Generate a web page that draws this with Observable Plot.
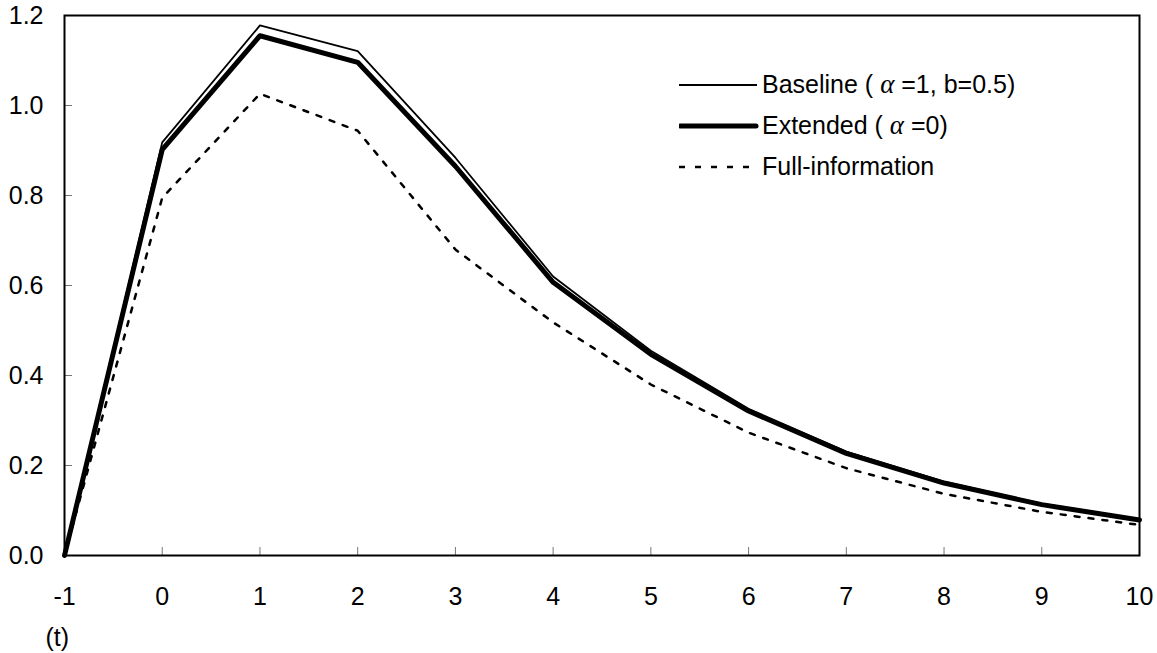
<!DOCTYPE html>
<html>
<head>
<meta charset="utf-8">
<script src="https://cdn.jsdelivr.net/npm/d3@7"></script>
<script src="https://cdn.jsdelivr.net/npm/@observablehq/plot@0.6"></script>
<style>
  body { margin: 0; background: #fff; font-family: "Liberation Sans", Arial, sans-serif; }
  #wrap { position: relative; width: 1157px; height: 653px; }
  #legend { position: absolute; left: 679px; top: 64px; font-size: 25px; color: #000; white-space: nowrap; }
  .row { display: flex; align-items: center; height: 41px; }
  .row svg { width: 80px; height: 12px; margin-right: 3px; }
  .al { font-family: "Liberation Serif", "Times New Roman", serif; font-style: italic; font-size: 27px; }
</style>
</head>
<body>
<div id="wrap"></div>
<script>
const periods = [-1, 0, 1, 2, 3, 4, 5, 6, 7, 8, 9, 10];
const baseline = [0, 0.918, 1.178, 1.121, 0.884, 0.620, 0.455, 0.326, 0.231, 0.164, 0.115, 0.081];
const extended = [0, 0.902, 1.155, 1.096, 0.865, 0.607, 0.447, 0.321, 0.227, 0.161, 0.113, 0.079];
const fullInfo = [0, 0.795, 1.026, 0.944, 0.680, 0.518, 0.380, 0.273, 0.194, 0.137, 0.097, 0.068];
const yTicks = [0, 0.2, 0.4, 0.6, 0.8, 1.0, 1.2];
const xTicks = periods;
const xAxisLabel = "(t)";
const seriesNames = ["Baseline", "Extended", "Full-information"];

const W = 1157, H = 653;
const mL = 64, mR = 18, mT = 15, mB = 98;
const pw = W - mL - mR, ph = H - mT - mB;

const rows = (vals) => periods.map((t, i) => ({t, v: vals[i]}));

const chart = Plot.plot({
  width: W, height: H,
  marginLeft: mL, marginRight: mR, marginTop: mT, marginBottom: mB,
  style: {fontFamily: '"Liberation Sans", Arial, sans-serif', fontSize: "25px", color: "#000", background: "#fff"},
  x: {domain: [-1, 10]},
  y: {domain: [0, 1.2]},
  marks: [
    Plot.axisY(yTicks, {tickSize: 0, tickPadding: 21, tickFormat: d => d.toFixed(1), label: null}),
    Plot.axisX(xTicks, {tickSize: 0, tickPadding: 32, tickFormat: d => String(d), label: null}),
    Plot.tickY(yTicks, {y: d => d, insetRight: pw - 8, stroke: "#777", strokeWidth: 1}),
    Plot.tickX(xTicks, {x: d => d, insetTop: ph - 8, stroke: "#777", strokeWidth: 1}),
    Plot.line(rows(fullInfo), {x: "t", y: "v", stroke: "#000", strokeWidth: 2.5, strokeDasharray: "5,9"}),
    Plot.line(rows(extended), {x: "t", y: "v", stroke: "#000", strokeWidth: 5}),
    Plot.line(rows(baseline), {x: "t", y: "v", stroke: "#000", strokeWidth: 1.8}),
    Plot.frame({stroke: "#000", strokeWidth: 2}),
    Plot.text([xAxisLabel], {frameAnchor: "bottom-left", text: d => d, dx: -19, dy: 82, textAnchor: "start", lineAnchor: "middle"})
  ]
});

// enforce font size on all chart texts
d3.select(chart).selectAll("g").filter(function() { return this.getAttribute("font-size"); }).attr("font-size", null);
d3.select(chart).selectAll("text").style("font-size", "25px");

const wrap = document.getElementById("wrap");
wrap.appendChild(chart);

const legend = document.createElement("div");
legend.id = "legend";
legend.innerHTML = `
  <div class="row"><svg><line x1="0" y1="6" x2="78" y2="6" stroke="#000" stroke-width="2"/></svg><span>${seriesNames[0]} ( <span class="al">α</span> =1, b=0.5)</span></div>
  <div class="row"><svg><line x1="1" y1="6" x2="77" y2="6" stroke="#000" stroke-width="5" stroke-linecap="round"/></svg><span>${seriesNames[1]} ( <span class="al">α</span> =0)</span></div>
  <div class="row"><svg><line x1="0" y1="6" x2="78" y2="6" stroke="#000" stroke-width="2.5" stroke-dasharray="6,10"/></svg><span>${seriesNames[2]}</span></div>`;
wrap.appendChild(legend);
</script>
</body>
</html>
